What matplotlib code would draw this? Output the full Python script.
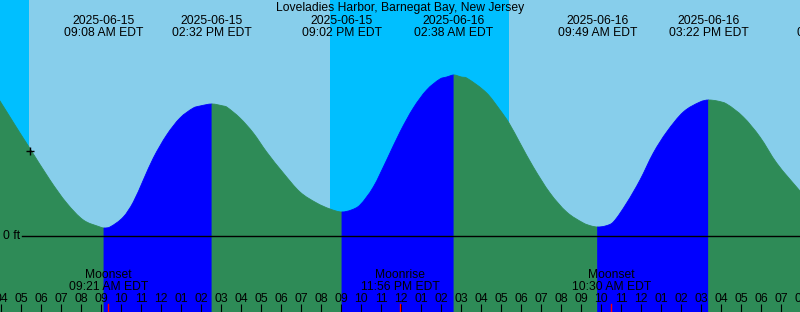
import matplotlib
matplotlib.use('Agg')
import matplotlib.pyplot as plt
import matplotlib.dates as mdates
import matplotlib.transforms as mtransforms
from matplotlib.path import Path
from matplotlib.patches import PathPatch
import numpy as np
import pandas as pd

plt.rcParams['font.family'] = ['Liberation Sans', 'DejaVu Sans']

station = 'Loveladies Harbor, Barnegat Bay, New Jersey'

# visible window (40 hours)
view_start = pd.Timestamp('2025-06-15 03:56')
view_end = pd.Timestamp('2025-06-16 19:56')

# tide extremes
tide_times = ['2025-06-15 09:08', '2025-06-15 14:32', '2025-06-15 21:02',
              '2025-06-16 02:38', '2025-06-16 09:49', '2025-06-16 15:22',
              '2025-06-16 21:47']
tide_kind = ['Low', 'High', 'Low', 'High', 'Low', 'High', 'Low']

# water level (ft)
level_times = ['2025-06-15 03:54', '2025-06-15 04:26', '2025-06-15 04:56', '2025-06-15 05:23',
               '2025-06-15 06:26', '2025-06-15 07:16', '2025-06-15 08:06', '2025-06-15 08:56',
               '2025-06-15 09:08', '2025-06-15 09:26', '2025-06-15 10:06', '2025-06-15 10:36',
               '2025-06-15 11:06', '2025-06-15 11:36', '2025-06-15 12:16', '2025-06-15 12:56',
               '2025-06-15 13:36', '2025-06-15 13:56', '2025-06-15 14:32', '2025-06-15 15:06',
               '2025-06-15 15:16', '2025-06-15 15:56', '2025-06-15 16:36', '2025-06-15 17:16',
               '2025-06-15 18:06', '2025-06-15 18:56', '2025-06-15 19:46', '2025-06-15 20:26',
               '2025-06-15 21:02', '2025-06-15 21:30', '2025-06-15 21:56', '2025-06-15 22:36',
               '2025-06-15 23:16', '2025-06-15 23:56', '2025-06-16 00:36', '2025-06-16 01:16',
               '2025-06-16 01:56', '2025-06-16 02:16', '2025-06-16 02:38', '2025-06-16 03:00',
               '2025-06-16 03:16', '2025-06-16 04:16', '2025-06-16 04:56', '2025-06-16 05:23',
               '2025-06-16 05:56', '2025-06-16 06:36', '2025-06-16 07:26', '2025-06-16 08:16',
               '2025-06-16 09:06', '2025-06-16 09:30', '2025-06-16 09:49', '2025-06-16 10:12',
               '2025-06-16 10:36', '2025-06-16 11:16', '2025-06-16 11:56', '2025-06-16 12:36',
               '2025-06-16 13:16', '2025-06-16 14:06', '2025-06-16 14:56', '2025-06-16 15:22',
               '2025-06-16 15:48', '2025-06-16 16:16', '2025-06-16 17:06', '2025-06-16 17:56',
               '2025-06-16 18:46', '2025-06-16 19:56', '2025-06-16 20:00']
level_feet = [1.36, 1.19, 1.03, 0.89,
              0.56, 0.33, 0.16, 0.09,
              0.08, 0.09, 0.19, 0.34,
              0.56, 0.78, 1.01, 1.18,
              1.28, 1.30, 1.32, 1.30,
              1.29, 1.18, 1.03, 0.84,
              0.63, 0.44, 0.33, 0.27,
              0.24, 0.26, 0.31, 0.49,
              0.76, 1.04, 1.28, 1.46,
              1.57, 1.59, 1.61, 1.59,
              1.58, 1.43, 1.26, 1.13,
              0.93, 0.69, 0.43, 0.24,
              0.13, 0.10, 0.09, 0.10,
              0.14, 0.33, 0.56, 0.83,
              1.04, 1.24, 1.34, 1.36,
              1.35, 1.32, 1.19, 0.99,
              0.73, 0.45, 0.44]

# sun and moon
night_start = ['2025-06-15 03:56', '2025-06-15 20:26']
night_end = ['2025-06-15 05:23', '2025-06-16 05:23']
moon_times = ['2025-06-15 09:21', '2025-06-15 23:56', '2025-06-16 10:30']
moon_kind = ['Moonset', 'Moonrise', 'Moonset']

# "+" marker on the curve
mark_time = '2025-06-15 05:26'
mark_feet = 0.85

DAY = '#87CEEB'
NIGHT = '#00BFFF'
RISING = '#0000FF'
FALLING = '#2E8B57'
FS = 8.7
BOTTOM = -1.0

H = 312.0
def yfrac(py):
    # pixel row from top -> axes fraction
    return 1 - py / H

fig = plt.figure(figsize=(8, 3.12), dpi=100)
ax = fig.add_axes([0, 0, 1, 1])
ax.set_facecolor(DAY)
for s in ax.spines.values():
    s.set_visible(False)

x0 = mdates.date2num(view_start)
x1 = mdates.date2num(view_end)
ax.set_xlim(x0, x1)
ax.set_ylim(-0.76, 2.36)
ax.set_yticks([])

for a, b in zip(night_start, night_end):
    ax.axvspan(mdates.date2num(pd.Timestamp(a)), mdates.date2num(pd.Timestamp(b)),
               color=NIGHT, lw=0, zorder=0)

# tide curve: smooth pieces through the read points, coloured rising / falling
lx = np.asarray(mdates.date2num(pd.to_datetime(pd.Series(level_times))))
ly = np.asarray(level_feet)
ext = np.array([mdates.date2num(pd.Timestamp(t)) for t in tide_times])

slope = np.empty(len(lx))
slope[1:-1] = (ly[2:] - ly[:-2]) / (lx[2:] - lx[:-2])
slope[0] = (ly[1] - ly[0]) / (lx[1] - lx[0])
slope[-1] = (ly[-1] - ly[-2]) / (lx[-1] - lx[-2])
for i, x in enumerate(lx):
    if np.any(np.isclose(ext, x, rtol=0, atol=1e-6)):
        slope[i] = 0.0  # flat at high / low water

bounds = [lx[0]] + list(ext)
for i in range(len(ext)):
    idx = np.where((lx >= bounds[i] - 1e-9) & (lx <= bounds[i + 1] + 1e-9))[0]
    if len(idx) < 2:
        continue
    a, b = idx[0], idx[-1]
    verts = [(lx[a], BOTTOM), (lx[a], ly[a])]
    codes = [Path.MOVETO, Path.LINETO]
    for j in range(a, b):
        dx = lx[j + 1] - lx[j]
        verts += [(lx[j] + dx / 3, ly[j] + slope[j] * dx / 3),
                  (lx[j + 1] - dx / 3, ly[j + 1] - slope[j + 1] * dx / 3),
                  (lx[j + 1], ly[j + 1])]
        codes += [Path.CURVE4] * 3
    verts += [(lx[b], BOTTOM), (lx[a], BOTTOM)]
    codes += [Path.LINETO, Path.CLOSEPOLY]
    col = RISING if tide_kind[i] == 'High' else FALLING
    ax.add_patch(PathPatch(Path(verts, codes), facecolor=col, edgecolor=col, lw=0.6, zorder=1))

# zero line
ax.axhline(0, xmin=21.7 / 800, xmax=1, color='black', lw=1.0, zorder=3)
ax.text(20 / 800, 0, '0 ft', transform=mtransforms.blended_transform_factory(ax.transAxes, ax.transData),
        ha='right', va='center', fontsize=FS)

ax.plot(mdates.date2num(pd.Timestamp(mark_time)), mark_feet, marker='+', color='black',
        ms=6, mew=1, zorder=4)

trans = mtransforms.blended_transform_factory(ax.transData, ax.transAxes)

ax.text(0.5, yfrac(11), station, transform=ax.transAxes, ha='center', va='baseline', fontsize=FS)
for t in tide_times:
    ts = pd.Timestamp(t)
    xt = mdates.date2num(ts)
    ax.text(xt, yfrac(24), ts.strftime('%Y-%m-%d'), transform=trans, ha='center', va='baseline', fontsize=FS)
    ax.text(xt, yfrac(36), ts.strftime('%I:%M %p EDT'), transform=trans, ha='center', va='baseline', fontsize=FS)

for t, k in zip(moon_times, moon_kind):
    ts = pd.Timestamp(t)
    xt = mdates.date2num(ts)
    ax.text(xt, yfrac(278.3), k, transform=trans, ha='center', va='baseline', fontsize=FS)
    ax.text(xt, yfrac(290), ts.strftime('%I:%M %p EDT'), transform=trans, ha='center', va='baseline', fontsize=FS)
    ax.plot([xt, xt], [0, 8 / H], transform=trans, color='red', lw=1.0, zorder=5)

# hour ticks and labels
hours = pd.date_range(view_start.ceil('h'), view_end + pd.Timedelta(hours=1), freq='h')
hx = mdates.date2num(hours)
ax.set_xticks([x for x in hx if x <= x1])
ax.tick_params(axis='x', direction='in', length=5.76, width=0.8, color='black', labelbottom=False)
for h, x in zip(hours, hx):
    ax.text(x, yfrac(301.7), h.strftime('%I'), transform=trans, ha='center', va='baseline', fontsize=FS)

fig.savefig('out.png', dpi=100)
